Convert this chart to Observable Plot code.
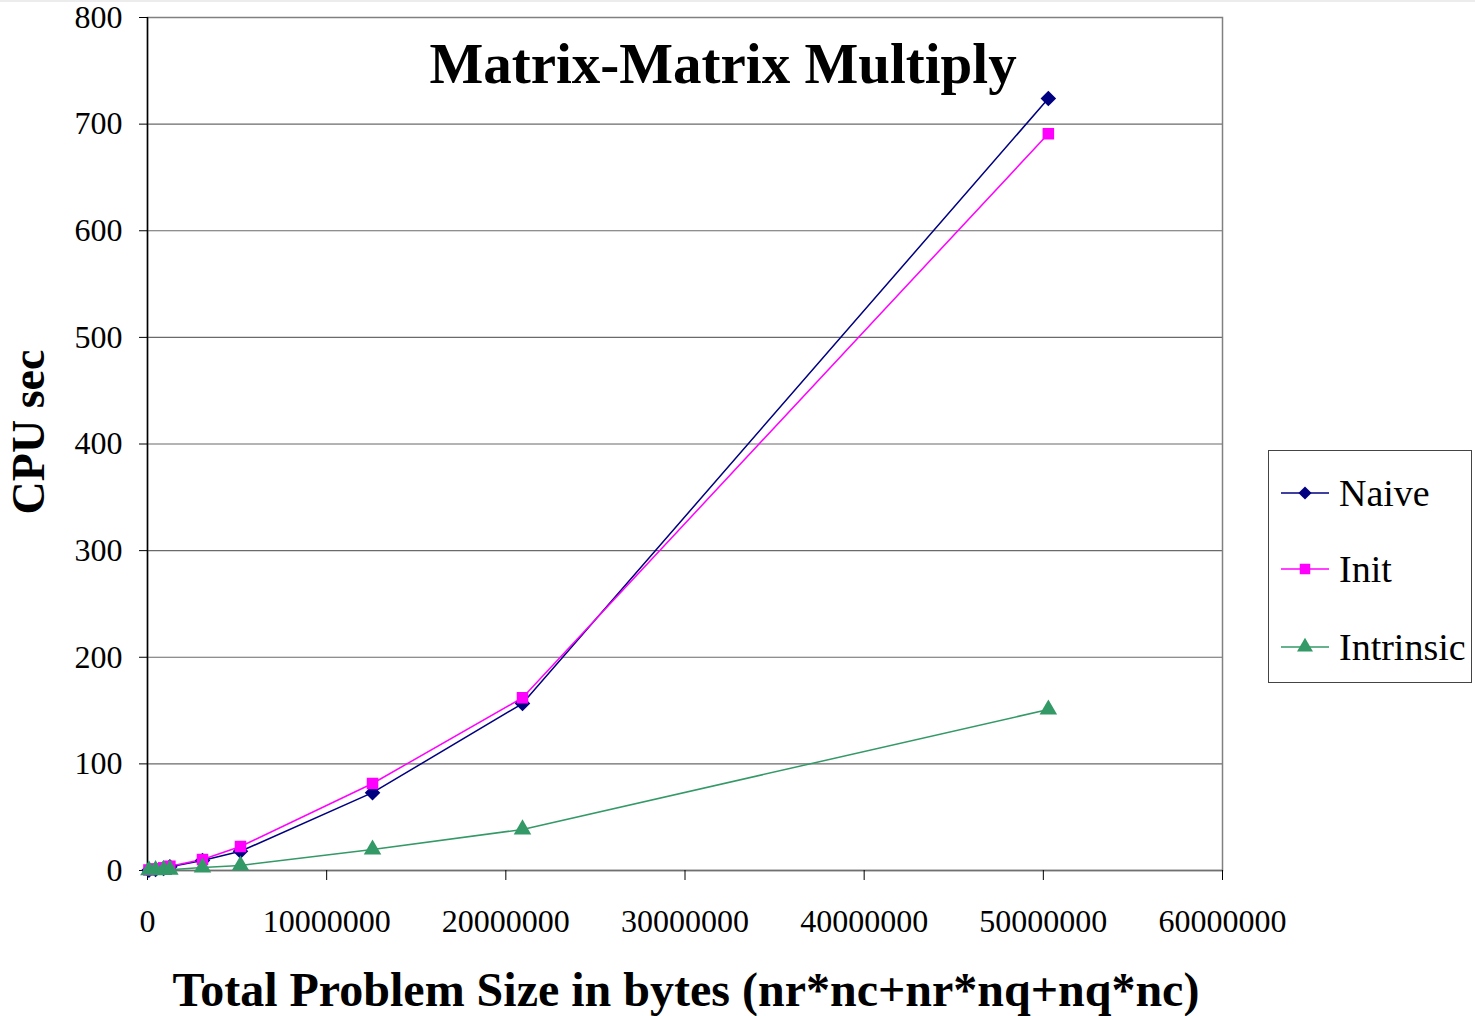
<!DOCTYPE html>
<html>
<head>
<meta charset="utf-8">
<script src="https://cdn.jsdelivr.net/npm/d3@7"></script>
<script src="https://cdn.jsdelivr.net/npm/@observablehq/plot@0.6"></script>
<style>
  html, body { margin: 0; padding: 0; background: #fff; }
  #wrap { position: relative; width: 1475px; height: 1016px; font-family: "Liberation Serif", "DejaVu Serif", serif; }
  #legend { position: absolute; left: 1268px; top: 450px; width: 202px; height: 231px; border: 1px solid #444; background: #fff; }
  .item { position: absolute; left: 12px; height: 40px; display: flex; align-items: center; font-size: 38px; color: #000; }
  .item svg { margin-right: 10px; }
  #topline { position: absolute; left: 0; top: 0; width: 1475px; height: 2px; background: #ececec; }
</style>
</head>
<body>
<div id="wrap">
  <div id="topline"></div>
  <div id="chart"></div>
  <div id="legend"></div>
</div>
<script>
// Problem sizes (bytes)
const sizes = [80000, 450000, 900000, 1250000, 3070000, 5190000, 12560000, 20930000, 50280000];
// CPU seconds per method
const naive = [0.3, 1, 2, 3.5, 9.4, 18, 73, 156.6, 724];
const init = [0.5, 1.5, 2.5, 4, 10.3, 22.5, 81.6, 162, 691];
const intrinsic = [0.2, 0.4, 0.6, 0.8, 2.8, 4.7, 19.7, 38.5, 151];

const seriesNames = ["Naive", "Init", "Intrinsic"];
const seriesColors = ["#000080", "#ff00ff", "#339966"];
const seriesSymbols = ["diamond2", "square", "triangle"];
const seriesValues = [naive, init, intrinsic];

const yTicks = [0, 100, 200, 300, 400, 500, 600, 700, 800];
const xTicks = [0, 10000000, 20000000, 30000000, 40000000, 50000000, 60000000];
const gridValues = [100, 200, 300, 400, 500, 600, 700];

const titleText = "Matrix-Matrix Multiply";
const xLabel = "Total Problem Size in bytes (nr*nc+nr*nq+nq*nc)";
const yLabel = "CPU sec";

const tables = seriesValues.map((vals, i) => sizes.map((s, j) => ({x: s, y: vals[j], series: seriesNames[i]})));

const marks = [
  Plot.ruleY(gridValues, {stroke: "#6a6a6a", strokeWidth: 1.2}),
  Plot.frame({stroke: "#808080", strokeWidth: 1.5}),
  Plot.ruleY([0], {stroke: "#707070", strokeWidth: 1.5}),
  Plot.ruleX([0], {stroke: "#000", strokeWidth: 1.5}),
  Plot.axisY({ticks: yTicks, tickSize: 8, tickPadding: 17, tickFormat: "d", label: null, fontSize: 32}),
  Plot.axisX({ticks: xTicks, tickSize: 10, tickPadding: 29, tickFormat: "d", label: null, fontSize: 32}),
];
tables.forEach((t, i) => {
  marks.push(Plot.line(t, {x: "x", y: "y", stroke: seriesColors[i], strokeWidth: 1.5}));
});
tables.forEach((t, i) => {
  marks.push(Plot.dot(t, {x: "x", y: "y", fill: seriesColors[i], stroke: "none", symbol: seriesSymbols[i], r: i === 0 ? 7 : 6.5}));
});
marks.push(Plot.text([titleText], {frameAnchor: "top", dx: 38, dy: 25, fontSize: 57, fontWeight: "bold", fill: "#000"}));
marks.push(Plot.text([yLabel], {frameAnchor: "left", textAnchor: "middle", dx: -118, dy: -12, rotate: -90, fontSize: 46, fontWeight: "bold", fill: "#000"}));
marks.push(Plot.text([xLabel], {frameAnchor: "bottom", dy: 135, dx: 1, fontSize: 48, fontWeight: "bold", fill: "#000"}));

const chart = Plot.plot({
  width: 1475,
  height: 1016,
  marginLeft: 147,
  marginRight: 253,
  marginTop: 17,
  marginBottom: 146,
  style: {fontFamily: "'Liberation Serif', 'DejaVu Serif', serif", color: "#000", background: "transparent", overflow: "visible"},
  x: {domain: [0, 60000000]},
  y: {domain: [0, 800]},
  marks
});
document.getElementById("chart").appendChild(chart);

// Legend
const legend = document.getElementById("legend");
const legendTops = [22, 98, 176];
const legendShapes = [d3.symbolDiamond2, d3.symbolSquare, d3.symbolTriangle];
const ns = "http://www.w3.org/2000/svg";
seriesNames.forEach((name, i) => {
  const item = document.createElement("div");
  item.className = "item";
  item.style.top = legendTops[i] + "px";
  const sw = document.createElementNS(ns, "svg");
  sw.setAttribute("width", 48);
  sw.setAttribute("height", 20);
  const ln = document.createElementNS(ns, "line");
  ln.setAttribute("x1", 0); ln.setAttribute("x2", 48);
  ln.setAttribute("y1", 10); ln.setAttribute("y2", 10);
  ln.setAttribute("stroke", seriesColors[i]); ln.setAttribute("stroke-width", 1.5);
  sw.appendChild(ln);
  const p = document.createElementNS(ns, "path");
  p.setAttribute("d", d3.symbol(legendShapes[i], 110)());
  p.setAttribute("transform", "translate(24,10)");
  p.setAttribute("fill", seriesColors[i]);
  sw.appendChild(p);
  item.appendChild(sw);
  const label = document.createElement("span");
  label.textContent = name;
  item.appendChild(label);
  legend.appendChild(item);
});
</script>
</body>
</html>
